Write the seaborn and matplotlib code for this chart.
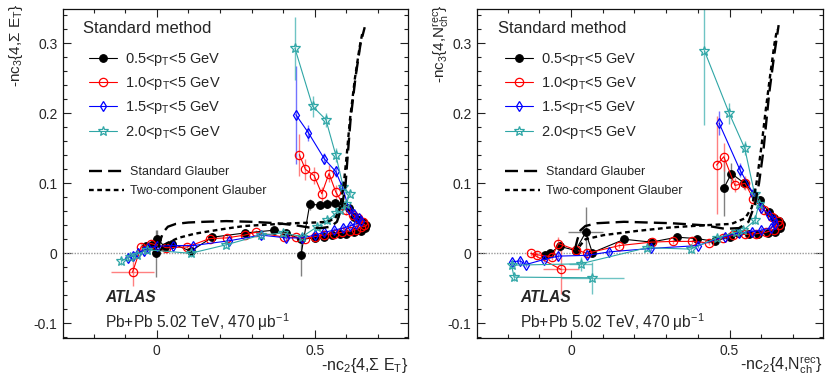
import numpy as np
import pandas as pd
import matplotlib
matplotlib.use("Agg")
import matplotlib.pyplot as plt
import seaborn as sns
from matplotlib.ticker import MultipleLocator, FuncFormatter

# ======================= DATA =======================
labels = ["0.5<p$_T$<5 GeV", "1.0<p$_T$<5 GeV", "1.5<p$_T$<5 GeV", "2.0<p$_T$<5 GeV"]
glauber_labels = ["Standard Glauber", "Two-component Glauber"]

# ---- left panel: -nc3{4,SumET} vs -nc2{4,SumET} ----
L05_x = [-0.035, -0.015, -0.003, 0.002, 0.025, 0.048, 0.107, 0.176, 0.278, 0.372, 0.409, 0.456, 0.50, 0.53,
         0.555, 0.58, 0.60, 0.624, 0.645, 0.658, 0.662, 0.653, 0.64, 0.624, 0.608, 0.587, 0.563, 0.54, 0.516, 0.484, 0.456]
L05_y = [0.010, 0.012, 0.000, 0.021, 0.009, 0.014, 0.003, 0.023, 0.029, 0.033, 0.029, 0.020, 0.022, 0.024,
         0.026, 0.027, 0.028, 0.030, 0.032, 0.036, 0.041, 0.045, 0.047, 0.052, 0.065, 0.069, 0.072, 0.071, 0.069, 0.070, -0.003]
L05_ey = [0.004, 0.004, 0.034, 0.012, 0.004, 0.004, 0.004, 0.003, 0.003, 0.003, 0.003, 0.003, 0.002, 0.002,
          0.002, 0.002, 0.002, 0.002, 0.002, 0.002, 0.002, 0.003, 0.003, 0.004, 0.005, 0.006, 0.006, 0.006, 0.006, 0.008, 0.030]
L05_ex = [0.0] * 31

L10_x = [-0.077, -0.050, -0.019, 0.030, 0.096, 0.167, 0.221, 0.278, 0.314, 0.404, 0.44, 0.47, 0.50, 0.53, 0.56,
         0.585, 0.61, 0.63, 0.645, 0.655, 0.652, 0.638, 0.62, 0.600, 0.566, 0.545, 0.522, 0.498, 0.47, 0.451]
L10_y = [-0.027, 0.009, 0.014, 0.008, 0.009, 0.021, 0.022, 0.026, 0.030, 0.023, 0.023, 0.021, 0.024, 0.026, 0.028,
         0.030, 0.032, 0.034, 0.037, 0.041, 0.045, 0.050, 0.055, 0.062, 0.088, 0.114, 0.085, 0.111, 0.120, 0.141]
L10_ey = [0.020, 0.006, 0.005, 0.004, 0.004, 0.004, 0.004, 0.003, 0.003, 0.003, 0.003, 0.003, 0.003, 0.003, 0.003,
          0.003, 0.003, 0.003, 0.003, 0.004, 0.004, 0.005, 0.006, 0.007, 0.010, 0.012, 0.010, 0.012, 0.015, 0.030]
L10_ex = [0.068] + [0.0] * 29

L15_x = [-0.09, -0.075, -0.06, -0.04, -0.028, 0.0, 0.05, 0.115, 0.23, 0.33, 0.41, 0.46, 0.50, 0.53,
         0.56, 0.59, 0.61, 0.63, 0.645, 0.64, 0.625, 0.608, 0.587, 0.566, 0.53, 0.48, 0.44]
L15_y = [-0.006, -0.004, 0.000, 0.004, 0.008, 0.010, 0.011, 0.011, 0.018, 0.026, 0.022, 0.022, 0.026, 0.030,
         0.033, 0.036, 0.039, 0.042, 0.046, 0.050, 0.056, 0.064, 0.095, 0.117, 0.135, 0.172, 0.198]
L15_ey = [0.004] * 22 + [0.008, 0.008, 0.008, 0.012, 0.070]
L15_ex = [0.0] * 27

L20_x = [-0.112, -0.085, -0.064, -0.03, 0.107, 0.218, 0.33, 0.398, 0.461, 0.508, 0.54, 0.566, 0.58, 0.60,
         0.61, 0.59, 0.566, 0.535, 0.493, 0.437]
L20_y = [-0.011, -0.005, -0.002, 0.005, 0.000, 0.012, 0.026, 0.029, 0.024, 0.038, 0.047, 0.057, 0.062, 0.070,
         0.085, 0.095, 0.141, 0.191, 0.210, 0.293]
L20_ey = [0.005] * 15 + [0.008, 0.010, 0.010, 0.015, 0.045]
L20_ex = [0.0] * 20

Lstd_x = [0.005, 0.012, 0.02, 0.035, 0.06, 0.1, 0.15, 0.22, 0.3, 0.38, 0.44, 0.48, 0.52, 0.55, 0.57, 0.585,
          0.597, 0.603, 0.613, 0.629, 0.645, 0.658]
Lstd_y = [0.008, 0.020, 0.030, 0.038, 0.042, 0.044, 0.045, 0.046, 0.045, 0.043, 0.040, 0.037, 0.036, 0.038, 0.045,
          0.065, 0.096, 0.133, 0.190, 0.252, 0.300, 0.323]
Ltwo_x = [0.01, 0.03, 0.068, 0.12, 0.173, 0.23, 0.278, 0.35, 0.435, 0.5, 0.54, 0.565, 0.58, 0.592, 0.601,
          0.611, 0.627, 0.642, 0.652]
Ltwo_y = [0.004, 0.014, 0.022, 0.028, 0.032, 0.036, 0.039, 0.041, 0.043, 0.044, 0.045, 0.050, 0.065, 0.100, 0.140,
          0.190, 0.250, 0.295, 0.318]

# ---- right panel: -nc3{4,Nch} vs -nc2{4,Nch} ----
R05_x = [-0.082, -0.068, -0.036, 0.014, 0.046, 0.067, 0.168, 0.253, 0.334, 0.398, 0.453, 0.50, 0.528, 0.56,
         0.59, 0.62, 0.645, 0.66, 0.662, 0.655, 0.64, 0.623, 0.597, 0.547, 0.506, 0.483]
R05_y = [-0.002, 0.000, 0.010, 0.004, 0.030, 0.001, 0.020, 0.016, 0.023, 0.021, 0.017, 0.024, 0.029, 0.028,
         0.028, 0.029, 0.031, 0.036, 0.042, 0.046, 0.050, 0.059, 0.076, 0.100, 0.114, 0.094]
R05_ey = [0.004, 0.004, 0.006, 0.005, 0.036, 0.005, 0.004, 0.003, 0.003, 0.003, 0.003, 0.002, 0.002, 0.002,
          0.002, 0.002, 0.002, 0.003, 0.003, 0.003, 0.004, 0.005, 0.006, 0.008, 0.015, 0.040]
R05_ex = [0.0] * 4 + [0.055] + [0.0] * 21

R10_x = [-0.032, -0.127, -0.109, -0.06, -0.04, 0.014, 0.05, 0.152, 0.254, 0.321, 0.38, 0.434, 0.48, 0.512,
         0.55, 0.585, 0.615, 0.64, 0.655, 0.652, 0.635, 0.61, 0.575, 0.549, 0.517, 0.482, 0.459]
R10_y = [-0.023, 0.000, -0.002, -0.005, 0.014, 0.005, 0.000, 0.011, 0.016, 0.017, 0.017, 0.015, 0.022, 0.026,
         0.027, 0.028, 0.030, 0.034, 0.040, 0.046, 0.052, 0.062, 0.078, 0.100, 0.097, 0.138, 0.126]
R10_ey = [0.035, 0.004, 0.004, 0.004, 0.010, 0.004, 0.004, 0.004, 0.003, 0.003, 0.003, 0.003, 0.003, 0.003,
          0.003, 0.003, 0.003, 0.003, 0.003, 0.004, 0.005, 0.006, 0.008, 0.010, 0.010, 0.020, 0.070]
R10_ex = [0.058] + [0.0] * 26

R15_x = [-0.188, -0.161, -0.142, -0.087, -0.04, 0.05, 0.12, 0.253, 0.40, 0.485, 0.53, 0.57, 0.60, 0.63,
         0.645, 0.64, 0.625, 0.60, 0.575, 0.533, 0.467]
R15_y = [-0.012, -0.011, -0.016, -0.009, -0.004, -0.003, 0.002, 0.007, 0.011, 0.024, 0.029, 0.031, 0.033, 0.036,
         0.042, 0.048, 0.055, 0.065, 0.085, 0.119, 0.186]
R15_ey = [0.004] * 18 + [0.008, 0.010, 0.017]
R15_ex = [0.0] * 21

R20_x = [0.067, -0.18, -0.188, 0.03, 0.24, 0.377, 0.46, 0.52, 0.544, 0.58, 0.593, 0.579, 0.548, 0.499, 0.421]
R20_y = [-0.035, -0.034, -0.017, -0.015, 0.008, 0.006, 0.022, 0.030, 0.033, 0.047, 0.071, 0.085, 0.150, 0.200, 0.289]
R20_ey = [0.023, 0.005, 0.005, 0.010, 0.005, 0.005, 0.004, 0.004, 0.004, 0.005, 0.006, 0.008, 0.010, 0.015, 0.105]
R20_ex = [0.10, 0.0, 0.0, 0.037] + [0.0] * 11

Rstd_x = [0.012, 0.02, 0.03, 0.045, 0.082, 0.167, 0.315, 0.421, 0.485, 0.53, 0.56, 0.58, 0.593, 0.607,
          0.625, 0.64, 0.655]
Rstd_y = [0.005, 0.020, 0.033, 0.039, 0.043, 0.045, 0.043, 0.040, 0.035, 0.036, 0.045, 0.070, 0.100, 0.147,
          0.228, 0.280, 0.326]
Rtwo_x = [0.012, 0.03, 0.045, 0.103, 0.209, 0.315, 0.42, 0.506, 0.549, 0.57, 0.585, 0.60, 0.613, 0.627, 0.642, 0.650]
Rtwo_y = [0.000, 0.012, 0.020, 0.026, 0.032, 0.037, 0.040, 0.042, 0.050, 0.065, 0.100, 0.150, 0.200, 0.250, 0.300, 0.320]

# ======================= STYLE =======================
sns.set_style("ticks")
plt.rcParams.update({
    "font.family": ["Liberation Sans", "DejaVu Sans"],
    "mathtext.fontset": "custom",
    "mathtext.rm": "Liberation Sans",
    "mathtext.it": "Liberation Sans",
    "mathtext.bf": "Liberation Sans:bold",
    "mathtext.sf": "Liberation Sans",
    "axes.unicode_minus": False,
})

colors = ["#000000", "#ff0000", "#0000ff", "#2fa6a6"]
err_colors = ["#555555", "#ff5555", "#4444ff", "#3fb0b0"]
marker_specs = [
    dict(marker="o", markersize=5.5, markerfacecolor="#000000", markeredgecolor="#000000", markeredgewidth=0.8),
    dict(marker="o", markersize=6.0, markerfacecolor="none", markeredgecolor="#ff0000", markeredgewidth=0.9),
    dict(marker="d", markersize=5.0, markerfacecolor="none", markeredgecolor="#0000ff", markeredgewidth=0.9),
    dict(marker="*", markersize=7.5, markerfacecolor="none", markeredgecolor="#2fa6a6", markeredgewidth=0.9),
]

fig = plt.figure(figsize=(8.3, 3.9), dpi=100)
axL = fig.add_axes([63 / 830, 1 - 338 / 390, 345 / 830, 329 / 390])
axR = fig.add_axes([477 / 830, 1 - 338 / 390, 346 / 830, 329 / 390])

panels = [
    dict(ax=axL,
         series=[(L05_x, L05_y, L05_ex, L05_ey), (L10_x, L10_y, L10_ex, L10_ey),
                 (L15_x, L15_y, L15_ex, L15_ey), (L20_x, L20_y, L20_ex, L20_ey)],
         glauber=[(Lstd_x, Lstd_y), (Ltwo_x, Ltwo_y)],
         ylabel="-nc$_3${4,Σ E$_T$}", xlabel="-nc$_2${4,Σ E$_T$}",
         ylab_x=-0.136, title_x=0.058, leg_x=0.075, atlas_x=0.122),
    dict(ax=axR,
         series=[(R05_x, R05_y, R05_ex, R05_ey), (R10_x, R10_y, R10_ex, R10_ey),
                 (R15_x, R15_y, R15_ex, R15_ey), (R20_x, R20_y, R20_ex, R20_ey)],
         glauber=[(Rstd_x, Rstd_y), (Rtwo_x, Rtwo_y)],
         ylabel="-nc$_3${4,N$_{ch}^{rec}$}", xlabel="-nc$_2${4,N$_{ch}^{rec}$}",
         ylab_x=-0.104, title_x=0.061, leg_x=0.081, atlas_x=0.124),
]

glauber_styles = [(0, (5.5, 2.6)), (0, (2.0, 1.5))]

for p in panels:
    ax = p["ax"]
    ax.axhline(0, color="#999999", lw=1.0, ls=(0, (1, 1)), zorder=1)

    # Glauber model curves
    ghandles = []
    for (gx, gy), ls in zip(p["glauber"], glauber_styles):
        sns.lineplot(x=gx, y=gy, ax=ax, sort=False, estimator=None, color="black",
                     lw=1.7, linestyle=ls, zorder=4, legend=False)
        ghandles.append(ax.lines[-1])

    # data series
    shandles = []
    for i, (sx, sy, sex, sey) in enumerate(p["series"]):
        ax.errorbar(sx, sy, yerr=sey, xerr=sex, fmt="none", ecolor=err_colors[i],
                    elinewidth=1.0, alpha=0.75, capsize=0, zorder=2 + i * 0.1)
        sns.lineplot(x=sx, y=sy, ax=ax, sort=False, estimator=None, color=colors[i],
                     lw=0.8, zorder=3 + i * 0.1, legend=False, **marker_specs[i])
        shandles.append(ax.lines[-1])

    ax.set_xlim(-0.297, 0.795)
    ax.set_ylim(-0.121, 0.349)
    ax.xaxis.set_major_locator(MultipleLocator(0.5))
    ax.xaxis.set_minor_locator(MultipleLocator(0.1))
    ax.yaxis.set_major_locator(MultipleLocator(0.1))
    ax.yaxis.set_minor_locator(MultipleLocator(0.02))
    fmt = FuncFormatter(lambda v, pos: "0" if abs(v) < 1e-9 else ("%g" % round(v, 2)))
    ax.xaxis.set_major_formatter(fmt)
    ax.yaxis.set_major_formatter(fmt)
    ax.tick_params(which="both", direction="in", top=True, right=True, width=0.8, color="#222222")
    ax.tick_params(which="major", length=6, labelsize=10, pad=4)
    ax.tick_params(which="minor", length=3)
    for s in ax.spines.values():
        s.set_linewidth(0.9)
        s.set_color("#111111")

    ax.set_xlabel("")
    ax.set_ylabel("")
    ax.text(1.0, -0.097, p["xlabel"], transform=ax.transAxes, ha="right", va="baseline", fontsize=11.5)
    ax.text(p["ylab_x"], 1.015, p["ylabel"], transform=ax.transAxes, ha="center", va="top",
            rotation=90, fontsize=11)

    ax.text(p["title_x"], 0.942, "Standard method", transform=ax.transAxes, ha="left", va="center", fontsize=12)
    leg1 = ax.legend(handles=shandles, labels=labels, loc="upper left", bbox_to_anchor=(p["leg_x"], 0.873),
                     frameon=False, fontsize=10.5, handlelength=1.9, handletextpad=0.55, labelspacing=0.5,
                     borderpad=0, borderaxespad=0, numpoints=1)
    ax.add_artist(leg1)
    ax.legend(handles=ghandles, labels=glauber_labels, loc="upper left", bbox_to_anchor=(p["leg_x"], 0.522),
              frameon=False, fontsize=9, handlelength=2.8, handletextpad=0.5, labelspacing=0.55,
              borderpad=0, borderaxespad=0)

    ax.text(p["atlas_x"], 0.122, "ATLAS", transform=ax.transAxes, ha="left", va="center",
            fontsize=11.2, fontweight="bold", fontstyle="italic")
    ax.text(p["atlas_x"], 0.049, "Pb+Pb 5.02 TeV, 470 μb$^{-1}$", transform=ax.transAxes,
            ha="left", va="center", fontsize=11.2)

fig.savefig("out.png", dpi=100)
